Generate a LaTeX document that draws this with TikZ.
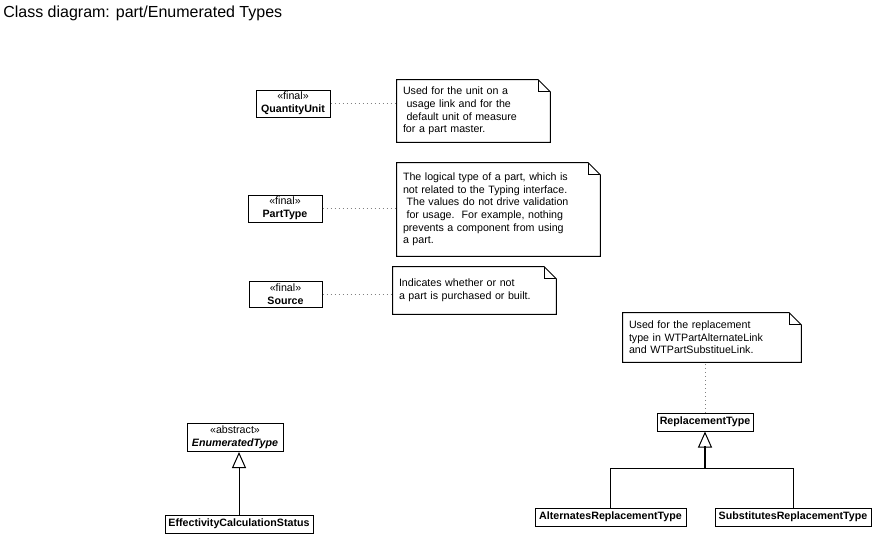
\documentclass[tikz,border=0pt]{standalone}
\usepackage{fontspec}
\setmainfont{Liberation Sans}
\usetikzlibrary{arrows.meta}
\tikzset{
  umlclass/.style={draw, line width=0.75pt, fill=white, align=center, inner sep=1pt,
    font=\fontsize{8}{9.5}\selectfont},
  umlnote/.style={align=left, inner xsep=4.5pt, inner ysep=2pt,
    font=\fontsize{8}{9.5}\selectfont},
  notelink/.style={gray, line width=0.75pt, dash pattern=on 0.75pt off 2.25pt},
  inherit/.style={line width=0.75pt, -{Triangle[open, length=12pt, width=10.5pt, line width=0.75pt]}},
}
% note outline with dog-ear
\newcommand{\notebox}[1]{%
  \draw[line width=0.75pt] (#1.north west) -- ([xshift=-9pt]#1.north east)
    -- ([yshift=-9pt]#1.north east) -- (#1.south east) -- (#1.south west) -- cycle;
  \draw[line width=0.75pt] ([xshift=-9pt]#1.north east) |- ([yshift=-9pt]#1.north east);}
\begin{document}
\begin{tikzpicture}[x=0.75pt, y=-0.75pt]
  \useasboundingbox (0,0) rectangle (872,537);
  % Title
  \node[anchor=base west, inner sep=0pt, font=\fontsize{12}{14}\selectfont] (title) at (3,17)
    {Class diagram: part/Enumerated Types};
  % Enumerations
  \node[umlclass, minimum width=55.5pt, minimum height=20.25pt] (quantity) at (293,103.5)
    {«final»\\\textbf{QuantityUnit}};
  \node[umlclass, minimum width=55.5pt, minimum height=20.25pt] (parttype) at (285,208.5)
    {«final»\\\textbf{PartType}};
  \node[umlclass, minimum width=54.75pt, minimum height=19.5pt] (source) at (285.5,294)
    {«final»\\\textbf{Source}};
  \node[umlclass, minimum width=72pt, minimum height=21pt] (enumtype) at (235,437.5)
    {«abstract»\\\textbf{\textit{EnumeratedType}}};
  \node[umlclass, minimum width=111pt, minimum height=13.5pt] (effstatus) at (239,524)
    {\textbf{EffectivityCalculationStatus}};
  \node[umlclass, minimum width=72pt, minimum height=13.5pt] (replacement) at (705,422)
    {\textbf{ReplacementType}};
  \node[umlclass, minimum width=113.25pt, minimum height=13.5pt] (alternates) at (610.5,517)
    {\textbf{AlternatesReplacementType}};
  \node[umlclass, minimum width=117pt, minimum height=13.5pt] (substitutes) at (793,517)
    {\textbf{SubstitutesReplacementType}};
  % Notes
  \node[umlnote, text width=105.75pt, minimum height=46.5pt] (quantitynote) at (473.5,111)
    {Used for the unit on a\\\ usage link and for the\\\ default unit of measure\\for a part master.};
  \node[umlnote, text width=143.25pt, minimum height=69.75pt] (parttypenote) at (498.5,209.5)
    {The logical type of a part, which is\\not related to the Typing interface.\\\ The values do not drive validation\\\ for usage.\ \ For example, nothing\\prevents a component from using\\a part.};
  \node[umlnote, text width=113.25pt, minimum height=35.25pt] (sourcenote) at (474.5,290.5)
    {Indicates whether or not\\a part is purchased or built.};
  \node[umlnote, text width=124.5pt, minimum height=36.75pt] (replacementnote) at (712,337.5)
    {Used for the replacement\\type in WTPartAlternateLink\\and WTPartSubstitueLink.};
  \notebox{quantitynote}
  \notebox{parttypenote}
  \notebox{sourcenote}
  \notebox{replacementnote}
  % Note links
  \draw[notelink] (quantity.east) -- (quantity.east -| quantitynote.west);
  \draw[notelink] (parttype.east) -- (parttype.east -| parttypenote.west);
  \draw[notelink] (source.east) -- (source.east -| sourcenote.west);
  \draw[notelink] (replacement.north) -- (replacement.north |- replacementnote.south);
  % Generalizations
  \draw[inherit] (effstatus.north) -- (effstatus.north |- enumtype.south);
  \coordinate (fork) at (705,468);
  \draw[line width=0.75pt] (alternates.north) |- (fork) -| (substitutes.north);
  \draw[line width=1.5pt] (fork) -- ++(0,-22);
  \draw[inherit] (fork) -- (replacement.south);
\end{tikzpicture}
\end{document}
